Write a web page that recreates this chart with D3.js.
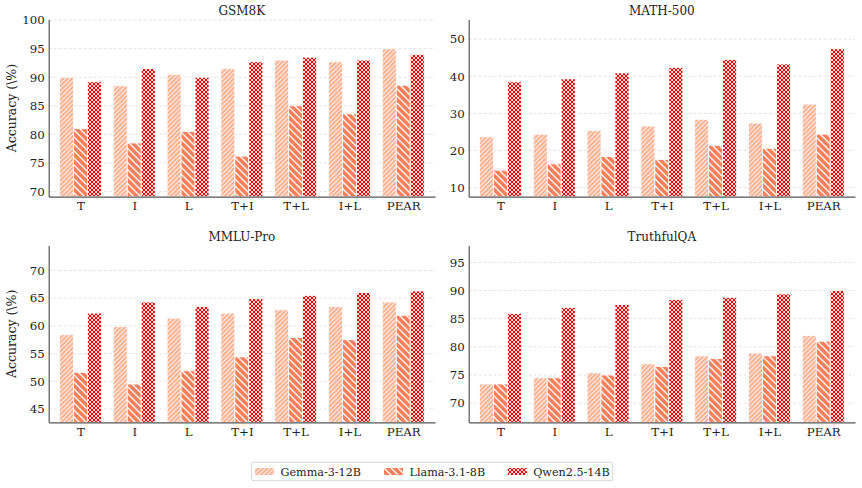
<!DOCTYPE html>
<html>
<head>
<meta charset="utf-8">
<script src="https://cdn.jsdelivr.net/npm/d3@7"></script>
<style>
  body { margin: 0; background: #fff; }
  svg text { font-family: "DejaVu Serif", serif; fill: #222; }
</style>
</head>
<body>
<svg id="chart" width="862" height="488"></svg>
<script>
// categories and models
var categories = ["T", "I", "L", "T+I", "T+L", "I+L", "PEAR"];
var models = ["Gemma-3-12B", "Llama-3.1-8B", "Qwen2.5-14B"];

// GSM8K
var gsmGemma = [90.0, 88.5, 90.5, 91.5, 93.0, 92.7, 95.0];
var gsmLlama = [81.0, 78.5, 80.5, 76.2, 85.0, 83.6, 88.6];
var gsmQwen  = [89.2, 91.5, 90.0, 92.7, 93.5, 93.0, 94.0];
var gsmTicks = [70, 75, 80, 85, 90, 95, 100];

// MATH-500
var mathGemma = [23.7, 24.4, 25.4, 26.6, 28.4, 27.4, 32.5];
var mathLlama = [14.7, 16.4, 18.4, 17.6, 21.4, 20.6, 24.4];
var mathQwen  = [38.5, 39.3, 40.9, 42.4, 44.5, 43.3, 47.4];
var mathTicks = [10, 20, 30, 40, 50];

// MMLU-Pro
var mmluGemma = [58.4, 59.9, 61.4, 62.3, 62.9, 63.5, 64.3];
var mmluLlama = [51.6, 49.5, 51.9, 54.4, 57.9, 57.5, 61.9];
var mmluQwen  = [62.3, 64.3, 63.5, 64.9, 65.5, 66.0, 66.3];
var mmluTicks = [45, 50, 55, 60, 65, 70];

// TruthfulQA
var tqaGemma = [73.4, 74.5, 75.4, 77.0, 78.4, 78.9, 82.0];
var tqaLlama = [73.4, 74.5, 75.0, 76.5, 77.9, 78.4, 81.0];
var tqaQwen  = [85.9, 87.0, 87.5, 88.4, 88.8, 89.4, 90.0];
var tqaTicks = [70, 75, 80, 85, 90, 95];

var svg = d3.select("#chart");
var defs = svg.append("defs");

// hatch patterns
function hatch(id, base, size, dirs, sw) {
  var p = defs.append("pattern")
    .attr("id", id)
    .attr("patternUnits", "userSpaceOnUse")
    .attr("width", size).attr("height", size);
  p.append("rect").attr("width", size).attr("height", size).attr("fill", base);
  dirs.forEach(function(d) {
    var path = d === "/" ?
      "M0," + size + " L" + size + ",0 M-1,1 L1,-1 M" + (size - 1) + "," + (size + 1) + " L" + (size + 1) + "," + (size - 1) :
      "M0,0 L" + size + "," + size + " M-1," + (size - 1) + " L1," + (size + 1) + " M" + (size - 1) + ",-1 L" + (size + 1) + ",1";
    p.append("path").attr("d", path).attr("stroke", "#fff").attr("stroke-width", sw);
  });
}
hatch("pGemma", "#ffac8a", 4.5, ["/"], 1.1);
hatch("pLlama", "#ff7f5a", 7, ["\\"], 1.3);
hatch("pQwen", "#e60000", 4, ["/", "\\"], 0.85);
var fills = ["url(#pGemma)", "url(#pLlama)", "url(#pQwen)"];

var panels = [
  { title: "GSM8K", series: [gsmGemma, gsmLlama, gsmQwen], ticks: gsmTicks, domain: [69.1, 100.1],
    x0: 48.7, x1: 435, y0: 19.5, y1: 196.7, ylabel: true },
  { title: "MATH-500", series: [mathGemma, mathLlama, mathQwen], ticks: mathTicks, domain: [7.55, 55.3],
    x0: 468.7, x1: 855, y0: 19.5, y1: 196.7, ylabel: false },
  { title: "MMLU-Pro", series: [mmluGemma, mmluLlama, mmluQwen], ticks: mmluTicks, domain: [42.6, 74.5],
    x0: 48.7, x1: 435, y0: 245.5, y1: 422.3, ylabel: true },
  { title: "TruthfulQA", series: [tqaGemma, tqaLlama, tqaQwen], ticks: tqaTicks, domain: [66.6, 98.0],
    x0: 468.7, x1: 855, y0: 245.5, y1: 422.3, ylabel: false }
];

var barW = 0.26;

panels.forEach(function(p) {
  var x = d3.scaleLinear().domain([-0.59, 6.59]).range([p.x0, p.x1]);
  var y = d3.scaleLinear().domain(p.domain).range([p.y1, p.y0]);
  var g = svg.append("g");

  // grid
  g.selectAll("line.grid").data(p.ticks).enter().append("line")
    .attr("class", "grid")
    .attr("x1", p.x0).attr("x2", p.x1)
    .attr("y1", function(d) { return y(d); })
    .attr("y2", function(d) { return y(d); })
    .attr("stroke", "#dcdcdc").attr("stroke-width", 0.8)
    .attr("stroke-dasharray", "3,2");

  // bars
  p.series.forEach(function(vals, j) {
    g.selectAll("rect.s" + j).data(vals).enter().append("rect")
      .attr("class", "s" + j)
      .attr("x", function(d, i) { return x(i + (j - 1.5) * barW); })
      .attr("width", x(barW) - x(0))
      .attr("y", function(d) { return y(d); })
      .attr("height", function(d) { return p.y1 - y(d); })
      .attr("fill", fills[j])
      .attr("stroke", "#fff").attr("stroke-width", 0.8);
  });

  // axes
  var yAxis = g.append("g").attr("transform", "translate(" + p.x0 + ",0)")
    .call(d3.axisLeft(y).tickValues(p.ticks).tickSize(0).tickPadding(4));
  var xAxis = g.append("g").attr("transform", "translate(0," + p.y1 + ")")
    .call(d3.axisBottom(x).tickValues(d3.range(categories.length))
      .tickFormat(function(i) { return categories[i]; }).tickSize(0).tickPadding(5));
  [yAxis, xAxis].forEach(function(a) {
    a.select(".domain").attr("stroke", "#555").attr("stroke-width", 1.2);
    a.selectAll("text").attr("font-size", 11.8).attr("fill", "#222")
      .style("font-family", "DejaVu Serif");
  });

  // title
  g.append("text")
    .attr("x", (p.x0 + p.x1) / 2).attr("y", 15)
    .attr("transform", "translate(0," + (p.y0 - 19.5) + ")")
    .attr("text-anchor", "middle").attr("font-size", 12)
    .text(p.title);

  if (p.ylabel) {
    g.append("text")
      .attr("transform", "translate(16," + ((p.y0 + p.y1) / 2) + ") rotate(-90)")
      .attr("text-anchor", "middle").attr("font-size", 12.5)
      .text("Accuracy (\\%)");
  }
});

// legend
var legend = svg.append("g");
legend.append("rect")
  .attr("x", 251.7).attr("y", 462.3).attr("width", 361).attr("height", 18.4)
  .attr("rx", 1.5)
  .attr("fill", "#fff").attr("stroke", "#cccccc").attr("stroke-width", 0.8);
var legX = [255, 384, 507.7];
models.forEach(function(m, j) {
  legend.append("rect")
    .attr("x", legX[j]).attr("y", 468).attr("width", 19).attr("height", 7)
    .attr("fill", fills[j]);
  legend.append("text")
    .attr("x", legX[j] + 25.5).attr("y", 475.5)
    .attr("font-size", 11.2)
    .text(m);
});
</script>
</body>
</html>
